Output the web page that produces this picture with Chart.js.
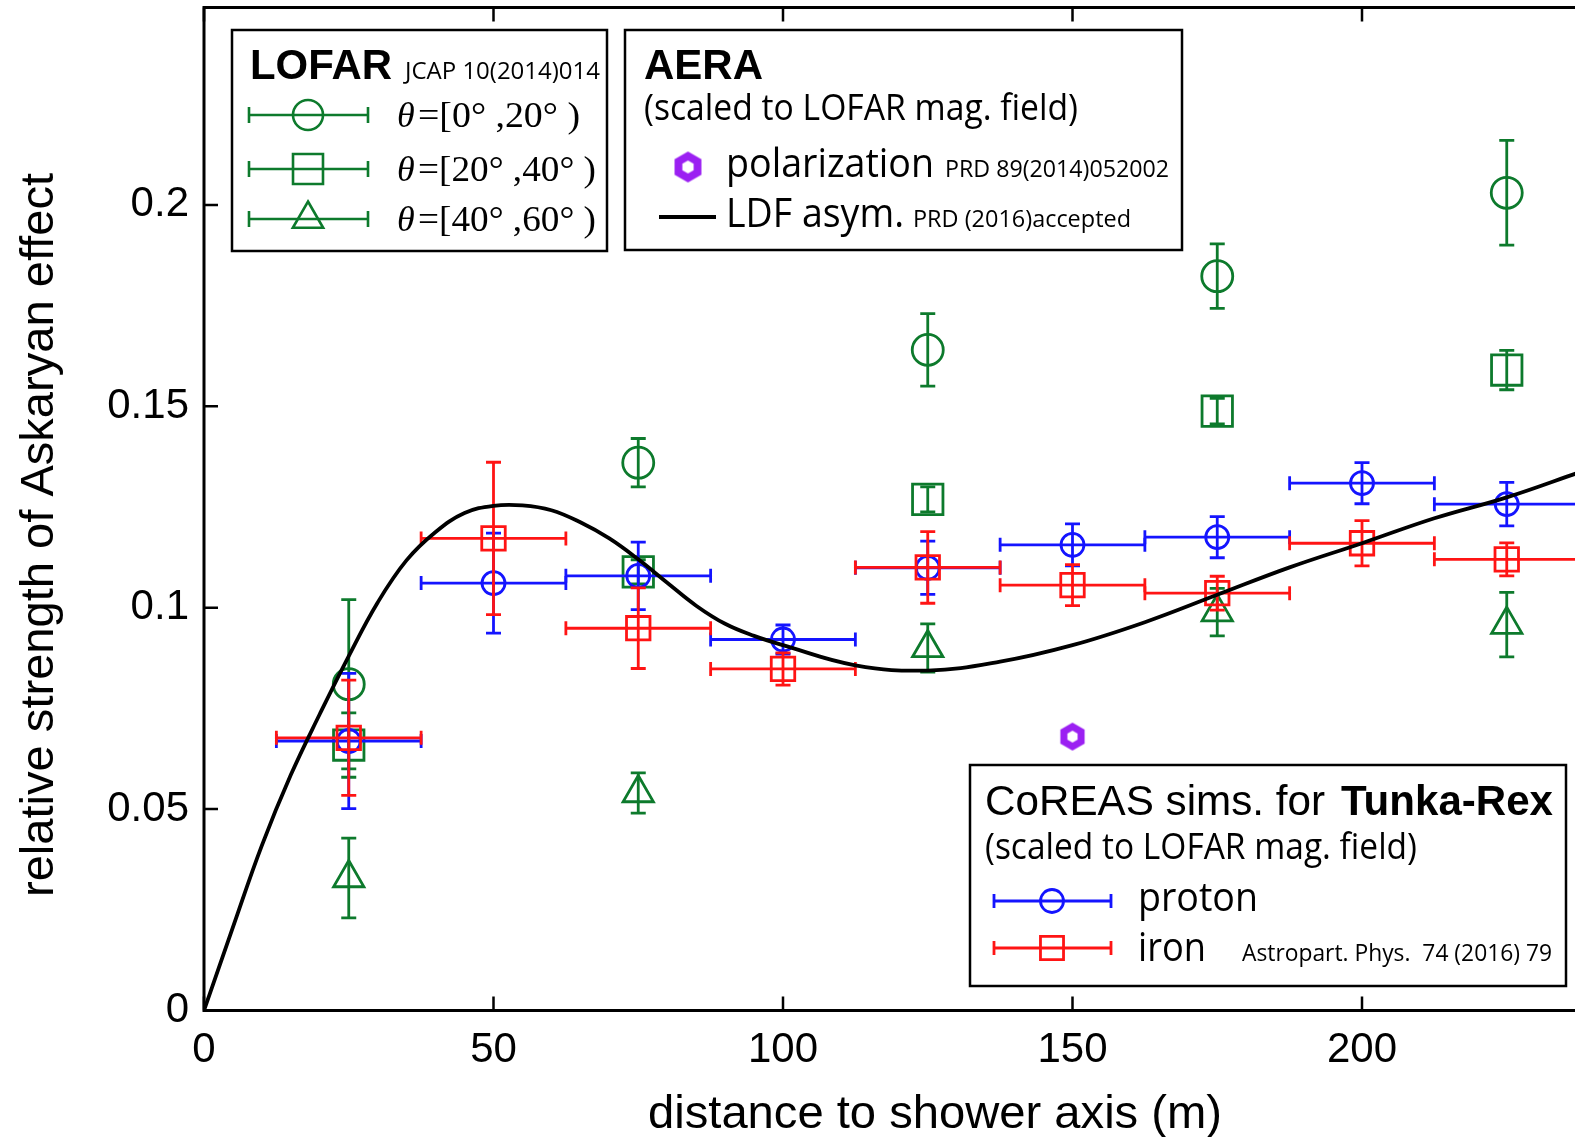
<!DOCTYPE html>
<html>
<head>
<meta charset="utf-8">
<title>Askaryan effect vs distance</title>
<script src="https://cdn.jsdelivr.net/npm/chart.js@4.4.1/dist/chart.umd.min.js"></script>
<style>
  html, body { margin: 0; padding: 0; background: #fff; overflow: hidden; }
  #wrap { width: 1600px; height: 1137px; }
</style>
</head>
<body>
<div id="wrap"><canvas id="askaryan"></canvas></div>
<script>
// axis ticks
const xTickValues = [0, 50, 100, 150, 200];
const xTickLabels = ['0', '50', '100', '150', '200'];
const yTickValues = [0, 0.05, 0.1, 0.15, 0.2];
const yTickLabels = ['0', '0.05', '0.1', '0.15', '0.2'];

// CoREAS simulations for Tunka-Rex (distance bins, m)
const simDistance = [25, 50, 75, 100, 125, 150, 175, 200, 225];
const simBinHalfWidth = [12.5, 12.5, 12.5, 12.5, 12.5, 12.5, 12.5, 12.5, 12.5];
const protonValue = [0.0669, 0.1061, 0.1079, 0.0921, 0.1099, 0.1156, 0.1175, 0.1309, 0.1257];
const protonError = [0.0168, 0.0124, 0.0084, 0.0036, 0.0066, 0.0052, 0.0051, 0.0051, 0.0054];
const ironValue = [0.0677, 0.1172, 0.0949, 0.0848, 0.1100, 0.1056, 0.1036, 0.1160, 0.1120];
const ironError = [0.0143, 0.0189, 0.0100, 0.0040, 0.0089, 0.0051, 0.0042, 0.0056, 0.0041];

// LOFAR measurements, three zenith ranges
const lofarDistance = [25, 75, 125, 175, 225];
const lofarZen0to20 = [0.081, 0.136, 0.164, 0.1823, 0.203];
const lofarZen0to20Err = [0.021, 0.006, 0.009, 0.008, 0.013];
const lofarZen20to40 = [0.0659, 0.1089, 0.1269, 0.1488, 0.1590];
const lofarZen20to40Err = [0.008, 0.003, 0.0031, 0.0032, 0.0049];
const lofarZen40to60 = [0.0329, 0.054, 0.090, 0.0989, 0.0958];
const lofarZen40to60Err = [0.0099, 0.005, 0.006, 0.0059, 0.008];

// AERA
const aeraDistance = [150];
const aeraPolarization = [0.068];
const ldfDistance = [0, 5, 10, 15, 20, 25, 30, 35, 40, 45, 50, 55, 60, 65, 70, 75, 80, 85, 90, 95, 100,
  112.5, 125, 137.5, 150, 162.5, 175, 187.5, 200, 212.5, 225, 237.5];
const ldfAsymmetry = [0, 0.0207, 0.041, 0.0585, 0.0736, 0.088, 0.1013, 0.1118, 0.1188, 0.1235,
  0.1253, 0.1254, 0.1242, 0.1212, 0.1172, 0.1120, 0.1062, 0.1005, 0.0960, 0.0930, 0.0907,
  0.0857, 0.0844, 0.0866, 0.0907, 0.0964, 0.1032, 0.1100, 0.1160, 0.1222, 0.1274, 0.1336];

const GREEN = '#0d7a2c';
const BLUE = '#1414ff';
const RED = '#ff1414';
const PURPLE = '#9b20f2';
const SANS = '"Liberation Sans", Arial, sans-serif';
const MYRIAD = '"Open Sans", "Noto Sans", sans-serif';
const SERIF = '"Liberation Serif", "DejaVu Serif", serif';

const pts = (xs, ys) => xs.map((x, i) => ({ x: x, y: ys[i] }));

function hexagonMark(R, color) {
  const c = document.createElement('canvas');
  const w = Math.ceil(R * 2 + 2);
  c.width = w; c.height = w;
  const g = c.getContext('2d');
  g.fillStyle = color;
  g.beginPath();
  [R, R * 0.42].forEach(r => {
    for (let k = 0; k < 6; k++) {
      const a = Math.PI / 2 + k * Math.PI / 3;
      const px = w / 2 + r * Math.cos(a), py = w / 2 - r * Math.sin(a);
      if (k) g.lineTo(px, py); else g.moveTo(px, py);
    }
    g.closePath();
  });
  g.fill('evenodd');
  return c;
}

// text squeezed/stretched to a given width
function fitText(ctx, text, x, y, width, font, align) {
  ctx.font = font;
  const w = ctx.measureText(text).width;
  ctx.save();
  ctx.translate(x, y);
  ctx.scale(width / w, 1);
  ctx.textAlign = align || 'left';
  ctx.fillText(text, 0, 0);
  ctx.restore();
}

function drawMarker(ctx, style, x, y, r) {
  ctx.beginPath();
  if (style === 'circle') {
    ctx.arc(x, y, r, 0, Math.PI * 2);
  } else if (style === 'rect') {
    const s = r * Math.SQRT1_2;
    ctx.rect(x - s, y - s, 2 * s, 2 * s);
  } else if (style === 'triangle') {
    ctx.moveTo(x, y - r);
    ctx.lineTo(x + r * 0.866, y + r / 2);
    ctx.lineTo(x - r * 0.866, y + r / 2);
    ctx.closePath();
  }
  ctx.stroke();
}

function hBar(ctx, x0, x1, y, tick) {
  ctx.beginPath();
  ctx.moveTo(x0, y); ctx.lineTo(x1, y);
  ctx.moveTo(x0, y - tick); ctx.lineTo(x0, y + tick);
  ctx.moveTo(x1, y - tick); ctx.lineTo(x1, y + tick);
  ctx.stroke();
}

// frame with inward ticks on all sides
const frameTicks = {
  id: 'frameTicks',
  beforeDatasetsDraw(chart) {
    const { ctx, chartArea: a, scales } = chart;
    const len = 14;
    ctx.save();
    ctx.strokeStyle = '#000';
    ctx.lineWidth = 2.5;
    ctx.beginPath();
    scales.x.ticks.forEach(t => {
      const px = scales.x.getPixelForValue(t.value);
      ctx.moveTo(px, a.bottom); ctx.lineTo(px, a.bottom - len);
      ctx.moveTo(px, a.top); ctx.lineTo(px, a.top + len);
    });
    scales.y.ticks.forEach(t => {
      const py = scales.y.getPixelForValue(t.value);
      ctx.moveTo(a.left, py); ctx.lineTo(a.left + len, py);
      ctx.moveTo(a.right, py); ctx.lineTo(a.right - len, py);
    });
    ctx.stroke();
    ctx.lineWidth = 3;
    ctx.strokeRect(a.left, a.top, a.right - a.left, a.bottom - a.top);
    ctx.restore();
  }
};

// vertical (and horizontal) error bars, drawn just under each dataset's markers
const errorBars = {
  id: 'errorBars',
  beforeDatasetDraw(chart, args) {
    const ds = chart.data.datasets[args.index];
    if (!ds.yErr) return;
    const { ctx, scales: { x: xs, y: ys } } = chart;
    const cap = ds.capHalf || 7.5;
    ctx.save();
    ctx.strokeStyle = ds.borderColor;
    ctx.lineWidth = ds.errWidth || 2.8;
    ds.data.forEach((p, i) => {
      const px = xs.getPixelForValue(p.x);
      const py = ys.getPixelForValue(p.y);
      const top = ys.getPixelForValue(p.y + ds.yErr[i]);
      const bot = ys.getPixelForValue(p.y - ds.yErr[i]);
      ctx.beginPath();
      ctx.moveTo(px, top); ctx.lineTo(px, bot);
      ctx.moveTo(px - cap, top); ctx.lineTo(px + cap, top);
      ctx.moveTo(px - cap, bot); ctx.lineTo(px + cap, bot);
      ctx.stroke();
      if (ds.xErr) {
        hBar(ctx, xs.getPixelForValue(p.x - ds.xErr[i]), xs.getPixelForValue(p.x + ds.xErr[i]), py, 7);
      }
    });
    ctx.restore();
  }
};

// axis titles and the three legend boxes
const annotations = {
  id: 'annotations',
  afterDraw(chart) {
    const ctx = chart.ctx;
    ctx.save();
    ctx.fillStyle = '#000';
    ctx.textBaseline = 'alphabetic';

    // axis titles
    ctx.save();
    ctx.textBaseline = 'middle';
    fitText(ctx, 'distance to shower axis (m)', 935, 1115, 574, '47px ' + SANS, 'center');
    ctx.translate(40, 535);
    ctx.rotate(-Math.PI / 2);
    fitText(ctx, 'relative strength of Askaryan effect', 0, 0, 724, '47px ' + SANS, 'center');
    ctx.restore();

    ctx.strokeStyle = '#000';
    ctx.lineWidth = 2.5;

    // LOFAR
    ctx.strokeRect(232, 30, 375, 221);
    fitText(ctx, 'LOFAR', 250, 79, 142, 'bold 42px ' + SANS);
    fitText(ctx, 'JCAP 10(2014)014', 405, 79, 195, '24px ' + MYRIAD);
    const rows = [
      { y: 115, style: 'circle', r: 15, label: '=[0° ,20° )', end: 580 },
      { y: 169, style: 'rect', r: 21.2, label: '=[20° ,40° )', end: 596 },
      { y: 219, style: 'triangle', r: 17.5, label: '=[40° ,60° )', end: 596 }
    ];
    rows.forEach(row => {
      ctx.strokeStyle = GREEN;
      ctx.lineWidth = 2.6;
      hBar(ctx, 249, 368, row.y, 8);
      drawMarker(ctx, row.style, 308, row.y, row.r);
      ctx.font = 'italic 36px ' + SERIF;
      ctx.fillText('θ', 397, row.y + 12);
      fitText(ctx, row.label, 418, row.y + 12, row.end - 418, '36px ' + SERIF);
    });

    // AERA
    ctx.strokeStyle = '#000';
    ctx.lineWidth = 2.5;
    ctx.strokeRect(625, 30, 557, 220);
    fitText(ctx, 'AERA', 644, 79, 119, 'bold 42px ' + SANS);
    fitText(ctx, '(scaled to LOFAR mag. field)', 644, 120, 434, '36px ' + MYRIAD);
    const hex = hexagonMark(15.5, PURPLE);
    ctx.drawImage(hex, 688 - hex.width / 2, 167 - hex.height / 2);
    fitText(ctx, 'polarization', 726, 177, 208, '40px ' + MYRIAD);
    fitText(ctx, 'PRD 89(2014)052002', 945, 177, 224, '24px ' + MYRIAD);
    ctx.lineWidth = 4;
    ctx.beginPath(); ctx.moveTo(659, 217); ctx.lineTo(716, 217); ctx.stroke();
    fitText(ctx, 'LDF asym.', 726, 227, 178, '40px ' + MYRIAD);
    fitText(ctx, 'PRD (2016)accepted', 913, 227, 218, '24px ' + MYRIAD);

    // Tunka-Rex
    ctx.lineWidth = 2.5;
    ctx.strokeRect(970, 765, 596, 221);
    fitText(ctx, 'CoREAS sims. for', 985, 815, 340, '42px ' + SANS);
    fitText(ctx, 'Tunka-Rex', 1341, 815, 212, 'bold 42px ' + SANS);
    fitText(ctx, '(scaled to LOFAR mag. field)', 985, 859, 432, '36px ' + MYRIAD);
    ctx.lineWidth = 2.8;
    ctx.strokeStyle = BLUE;
    hBar(ctx, 994, 1111, 901, 7);
    drawMarker(ctx, 'circle', 1052, 901, 11.5);
    ctx.strokeStyle = RED;
    hBar(ctx, 994, 1111, 948, 7);
    drawMarker(ctx, 'rect', 1052, 948, 16.3);
    fitText(ctx, 'proton', 1138, 911, 120, '40px ' + MYRIAD);
    fitText(ctx, 'iron', 1138, 961, 68, '40px ' + MYRIAD);
    fitText(ctx, 'Astropart. Phys.  74 (2016) 79', 1242, 961, 310, '24px ' + MYRIAD);
    ctx.restore();
  }
};

const markerSet = (label, xs, ys, errs, style, radius, color, order, extra) => Object.assign({
  type: 'scatter',
  label: label,
  data: pts(xs, ys),
  yErr: errs,
  pointStyle: style,
  pointRadius: radius,
  pointHoverRadius: radius,
  pointBorderWidth: 2.8,
  pointHoverBorderWidth: 2.8,
  borderColor: color,
  backgroundColor: 'rgba(0,0,0,0)',
  order: order
}, extra || {});

const datasets = [
  {
    type: 'line',
    label: 'LDF asym.',
    data: pts(ldfDistance, ldfAsymmetry),
    borderColor: '#000',
    borderWidth: 3.8,
    pointRadius: 0,
    tension: 0.4,
    fill: false,
    order: 0
  },
  {
    type: 'scatter',
    label: 'polarization',
    data: pts(aeraDistance, aeraPolarization),
    pointStyle: hexagonMark(14, PURPLE),
    pointRadius: 14,
    order: 1
  },
  markerSet('iron', simDistance, ironValue, ironError, 'rect', 16.6, RED, 2, { xErr: simBinHalfWidth }),
  markerSet('proton', simDistance, protonValue, protonError, 'circle', 11.5, BLUE, 3, { xErr: simBinHalfWidth }),
  markerSet('θ=[40°,60°)', lofarDistance, lofarZen40to60, lofarZen40to60Err, 'triangle', 17.5, GREEN, 4),
  markerSet('θ=[20°,40°)', lofarDistance, lofarZen20to40, lofarZen20to40Err, 'rect', 21.5, GREEN, 5),
  markerSet('θ=[0°,20°)', lofarDistance, lofarZen0to20, lofarZen0to20Err, 'circle', 15.5, GREEN, 6)
];

const tickFont = { family: SANS, size: 42 };

new Chart(document.getElementById('askaryan'), {
  type: 'scatter',
  data: { datasets: datasets },
  options: {
    responsive: true,
    maintainAspectRatio: false,
    animation: false,
    events: [],
    layout: { autoPadding: false, padding: { left: 0, right: 6.4, top: 7.5, bottom: 0 } },
    plugins: { legend: { display: false }, tooltip: { enabled: false } },
    scales: {
      x: {
        type: 'linear',
        min: 0,
        max: 240,
        grid: { display: false, drawTicks: false },
        border: { display: false },
        ticks: {
          color: '#000',
          font: tickFont,
          padding: 15,
          maxRotation: 0,
          autoSkip: false,
          callback: (v, i) => xTickLabels[i]
        },
        afterBuildTicks: s => { s.ticks = xTickValues.map(v => ({ value: v })); },
        afterFit: s => { s.height = 126.5; s.paddingLeft = 0; s.paddingRight = 0; }
      },
      y: {
        type: 'linear',
        min: 0,
        max: 0.249,
        grid: { display: false, drawTicks: false },
        border: { display: false },
        ticks: {
          color: '#000',
          font: tickFont,
          padding: 15,
          autoSkip: false,
          callback: (v, i) => yTickLabels[i]
        },
        afterBuildTicks: s => { s.ticks = yTickValues.map(v => ({ value: v })); },
        afterFit: s => { s.width = 204; s.paddingTop = 0; s.paddingBottom = 0; }
      }
    }
  },
  plugins: [frameTicks, errorBars, annotations]
});
</script>
</body>
</html>
